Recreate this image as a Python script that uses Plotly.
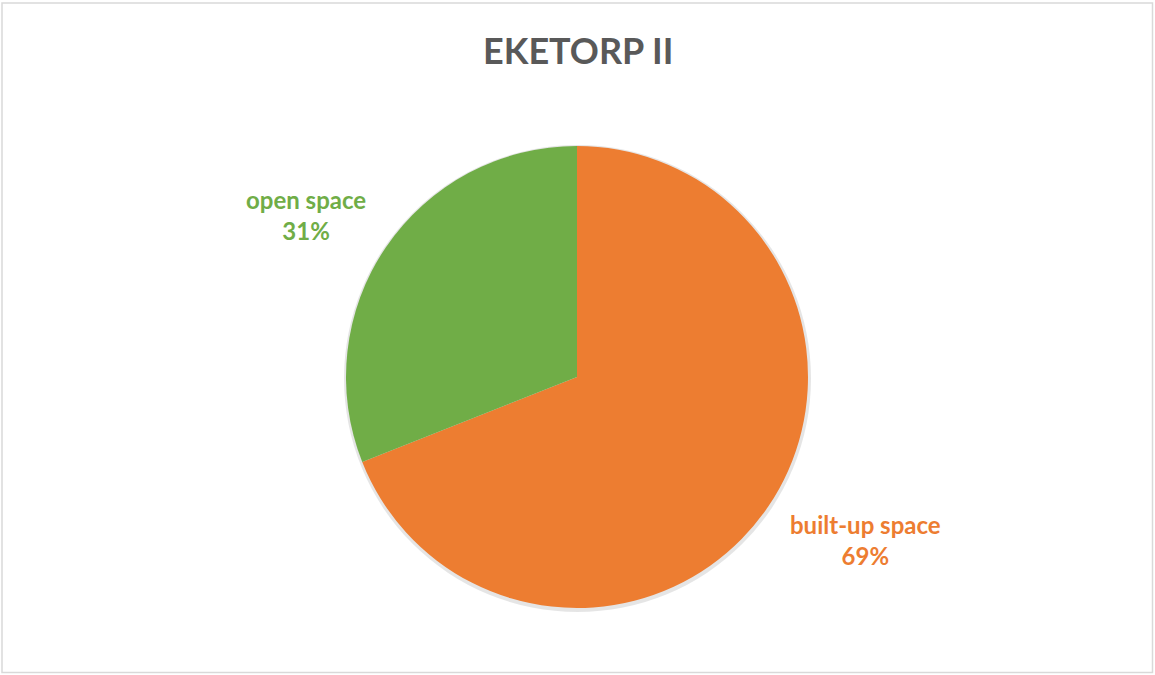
import plotly.graph_objects as go

categories = ["built-up space", "open space"]
values = [69, 31]
colors = ["#ED7D31", "#70AD47"]
pct_labels = ["69%", "31%"]
title_text = "EKETORP II"

W, H = 1155, 675
cx, cy, r = 577, 377, 231

fig = go.Figure()
fig.add_trace(go.Pie(
    labels=categories, values=values, sort=False, direction="clockwise",
    rotation=0, marker=dict(colors=colors, line=dict(width=0)),
    textinfo="none", hoverinfo="label+percent", showlegend=False,
    domain=dict(x=[(cx - r) / W, (cx + r) / W], y=[1 - (cy + r) / H, 1 - (cy - r) / H]),
))

font = "Lato"
label_pos = {"built-up space": (865, 540), "open space": (306, 215)}
for cat, col, pct in zip(categories, colors, pct_labels):
    x, y = label_pos[cat]
    fig.add_annotation(x=x / W, y=1 - y / H, xref="paper", yref="paper",
                       text=f"<b>{cat}<br>{pct}</b>", showarrow=False,
                       font=dict(family=font, size=24, color=col),
                       align="center", xanchor="center", yanchor="middle")

fig.add_annotation(x=578 / W, y=1 - 50 / H, xref="paper", yref="paper",
                   text=f"<b>{title_text}</b>", showarrow=False,
                   font=dict(family=font, size=36, color="#595959"),
                   xanchor="center", yanchor="middle")

# outer chart border
fig.add_shape(type="rect", xref="paper", yref="paper",
              x0=2 / W, x1=1 - 2.5 / W, y0=2.5 / H, y1=1 - 3 / H,
              line=dict(color="#D9D9D9", width=1.5), fillcolor="rgba(0,0,0,0)")
# soft shadow behind pie
fig.add_shape(type="circle", xref="paper", yref="paper", layer="below",
              x0=(cx - r - 2) / W, x1=(cx + r + 3) / W,
              y0=1 - (cy + r + 4) / H, y1=1 - (cy - r - 1) / H,
              line=dict(width=0), fillcolor="rgba(0,0,0,0.10)")

fig.update_layout(width=W, height=H, margin=dict(l=0, r=0, t=0, b=0),
                  paper_bgcolor="white", plot_bgcolor="white")
fig.write_html("out.html")
